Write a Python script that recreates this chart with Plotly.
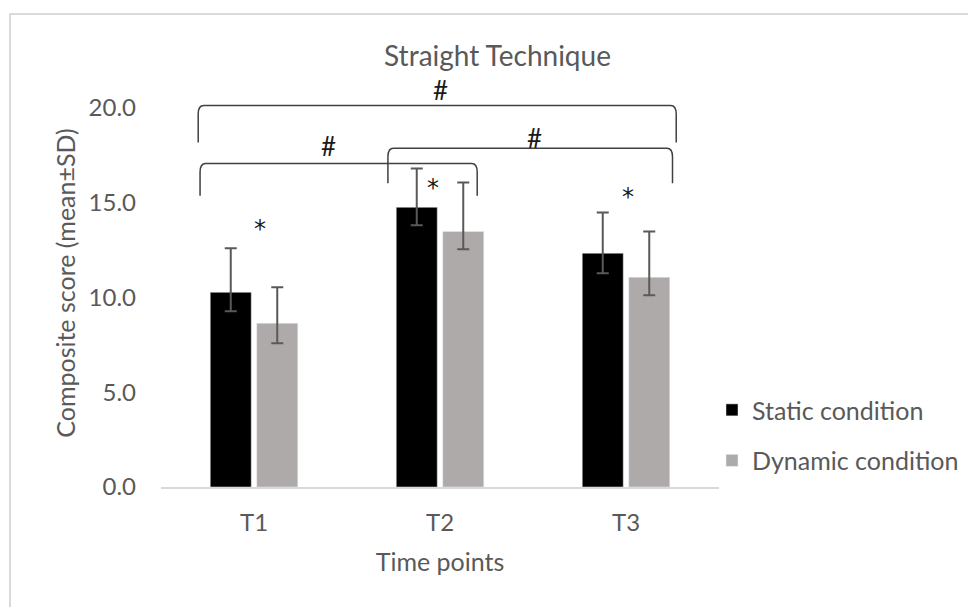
import plotly.graph_objects as go

# ---- data ----
time_points = ["T1", "T2", "T3"]
x_pos = [0, 1, 2]
static_mean = [10.26, 14.74, 12.32]
static_err_plus = [2.32, 2.05, 2.15]
static_err_minus = [1.0, 0.95, 1.06]
dynamic_mean = [8.63, 13.47, 11.05]
dynamic_err_plus = [1.9, 2.58, 2.42]
dynamic_err_minus = [1.05, 0.94, 0.95]
y_ticks = [0, 5, 10, 15, 20]

# significance brackets: (x_left, x_right, y_top, y_bottom_left, y_bottom_right)
brackets = [
    (-0.30, 2.27, 20.1, 18.15, 18.15),
    (-0.29, 1.20, 17.05, 15.35, 15.35),
    (0.72, 2.25, 17.85, 16.0, 16.0),
]
hash_marks = [(1.0, 20.9), (0.40, 17.95), (1.51, 18.4)]
star_marks = [(0.03, 13.8), (0.96, 16.0), (2.01, 15.5)]

FONT = "Lato"
TXT = "#595959"

OFF = 8  # page body margin
W, H = 976 - OFF, 607 - OFF
L, T = 161 - OFF, 78.5 - OFF
R = W - (719 - OFF)
B = H - (487 - OFF)
pw, ph = W - L - R, H - B - T


def px2x(px):  # screen px -> paper x
    return (px - OFF - L) / pw


def py2y(py):  # screen px -> paper y
    return (H - B - (py - OFF)) / ph


fig = go.Figure()
fig.add_trace(go.Bar(
    x=x_pos, y=static_mean, name="Static condition",
    marker=dict(color="#000000"),
    error_y=dict(type="data", symmetric=False, array=static_err_plus,
                 arrayminus=static_err_minus, color="#595959",
                 thickness=2, width=6),
    legendgroup="a",
))
fig.add_trace(go.Bar(
    x=x_pos, y=dynamic_mean, name="Dynamic condition",
    marker=dict(color="#AEAAAA"),
    error_y=dict(type="data", symmetric=False, array=dynamic_err_plus,
                 arrayminus=dynamic_err_minus, color="#595959",
                 thickness=2, width=6),
    legendgroup="b",
))

shapes = []
rx, ry = 0.03, 0.45
for (x0, x1, yt, yb0, yb1) in brackets:
    path = (f"M {x0},{yb0} L {x0},{yt-ry} Q {x0},{yt} {x0+rx},{yt} "
            f"L {x1-rx},{yt} Q {x1},{yt} {x1},{yt-ry} L {x1},{yb1}")
    shapes.append(dict(type="path", path=path, xref="x", yref="y",
                       line=dict(color="#404040", width=1.5)))

# chart-area border (top & left visible)
shapes.append(dict(type="line", xref="paper", yref="paper",
                   x0=px2x(9.5), x1=px2x(990), y0=py2y(13.5), y1=py2y(13.5),
                   line=dict(color="#D9D9D9", width=2)))
shapes.append(dict(type="line", xref="paper", yref="paper",
                   x0=px2x(10), x1=px2x(10), y0=py2y(13.5), y1=py2y(620),
                   line=dict(color="#D9D9D9", width=2)))

annotations = []
for (x, y) in hash_marks:
    annotations.append(dict(x=x, y=y, xref="x", yref="y", text="#",
                            showarrow=False,
                            font=dict(family=FONT, size=26, color="#1a1a1a")))
for (x, y) in star_marks:
    annotations.append(dict(x=x, y=y - 0.22, xref="x", yref="y", text="*",
                            showarrow=False,
                            font=dict(family="DejaVu Sans", size=24,
                                      color="#1a1a1a")))

fig.update_layout(
    width=W, height=H,
    margin=dict(l=L, r=R, t=T, b=B, pad=0, autoexpand=False),
    plot_bgcolor="white", paper_bgcolor="white",
    barmode="group", bargap=0.5, bargroupgap=0.118,
    title=dict(text="Straight Technique", x=(497.5 - OFF) / W,
               xanchor="center", y=1 - (56 - OFF) / H, yanchor="middle",
               font=dict(family=FONT, size=28, color=TXT)),
    font=dict(family=FONT, color=TXT),
    xaxis=dict(range=[-0.5, 2.5], tickvals=x_pos, ticktext=time_points,
               showgrid=False, zeroline=False, showline=True,
               linecolor="#D9D9D9", linewidth=2, ticks="",
               tickfont=dict(family=FONT, size=24, color=TXT),
               ticklabelstandoff=13,
               title=dict(text="Time points", standoff=19,
                          font=dict(family=FONT, size=25, color=TXT))),
    yaxis=dict(range=[0, ph / 19.0], tickvals=y_ticks,
               tickformat=".1f", showgrid=False, zeroline=False,
               showline=False, ticks="",
               tickfont=dict(family=FONT, size=24, color=TXT),
               ticklabelstandoff=24,
               title=dict(text="Composite score (mean±SD)", standoff=5,
                          font=dict(family=FONT, size=25, color=TXT))),
    legend=dict(x=px2x(712), y=py2y(387), xanchor="left", yanchor="top",
                font=dict(family=FONT, size=25, color=TXT),
                traceorder="grouped", tracegroupgap=15,
                bgcolor="rgba(0,0,0,0)"),
    shapes=shapes, annotations=annotations,
)

fig.write_html("out.html")
